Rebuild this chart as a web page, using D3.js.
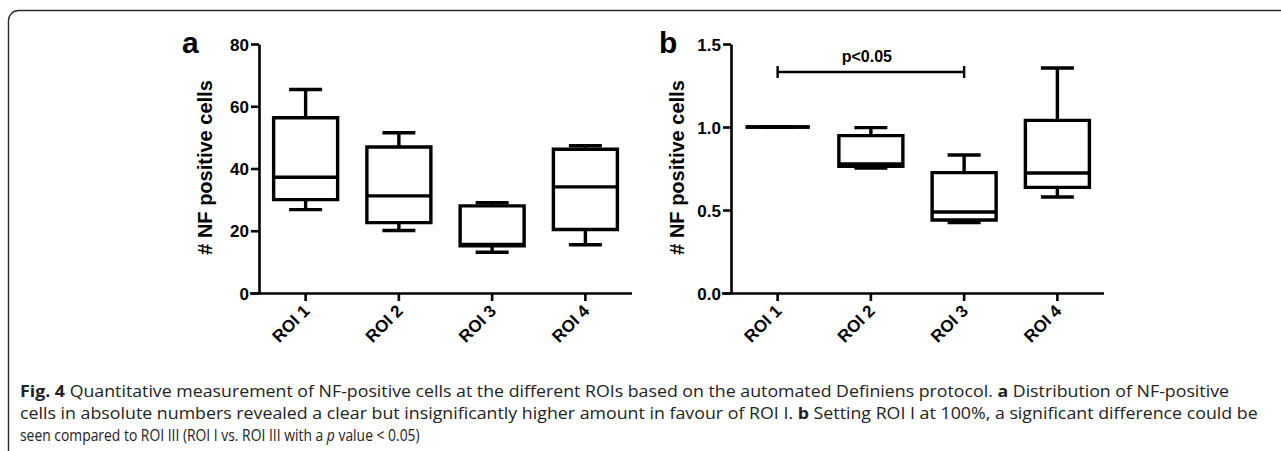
<!DOCTYPE html>
<html>
<head>
<meta charset="utf-8">
<script src="https://cdn.jsdelivr.net/npm/d3@7"></script>
<style>
  html, body { margin: 0; padding: 0; background: #fff; }
  svg { display: block; }
</style>
</head>
<body>
<svg id="chart" width="1281" height="451"></svg>
<script>
// ---------- data ----------
const categories = ["ROI 1", "ROI 2", "ROI 3", "ROI 4"];

// panel a: absolute counts
const aMin = [26.8, 20.1, 13.1, 15.5];
const aQ1  = [30.0, 22.6, 15.2, 20.4];
const aMed = [37.2, 31.2, 15.6, 34.1];
const aQ3  = [56.3, 46.9, 28.0, 46.2];
const aMax = [65.4, 51.5, 29.0, 47.3];
const aTicks = [0, 20, 40, 60, 80];

// panel b: relative to ROI 1
const bMin = [1.0, 0.753, 0.425, 0.578];
const bQ1  = [1.0, 0.763, 0.440, 0.636];
const bMed = [1.0, 0.778, 0.488, 0.723];
const bQ3  = [1.0, 0.948, 0.725, 1.040];
const bMax = [1.0, 0.996, 0.831, 1.355];
const bTicks = [0.0, 0.5, 1.0, 1.5];

const sigFrom = "ROI 1", sigTo = "ROI 3", sigLevel = 1.331, sigLabel = "p<0.05";

const yTitle = "# NF positive cells";

// ---------- drawing ----------
const svg = d3.select("#chart");
const FONT = "Liberation Sans, Arial, Helvetica, sans-serif";

function setFont(sel, size, weight) {
  return sel.style("font-family", FONT).style("font-size", size + "px").style("font-weight", weight || "bold");
}

// outer frame
svg.append("path")
  .attr("d", "M8.5,451 V20.5 A10,10 0 0 1 18.5,10.5 H1281")
  .attr("fill", "none").attr("stroke", "#2b2b2b").attr("stroke-width", 1.4);

function panel(opts) {
  const { x0, x1, yTop, yBot, domainMax, ticks, fmt, mins, q1s, meds, q3s, maxs, letter, letterX } = opts;
  const g = svg.append("g");
  const x = d3.scaleBand().domain(categories).range([x0, x1]).padding(0);
  const y = d3.scaleLinear().domain([0, domainMax]).range([yBot, yTop]);

  // y axis
  const ya = g.append("g").attr("transform", `translate(${x0},0)`)
    .call(d3.axisLeft(y).tickValues(ticks).tickFormat(fmt).tickSize(8).tickSizeOuter(0).tickPadding(2));
  ya.select(".domain").attr("stroke", "#000").attr("stroke-width", 2.6);
  ya.selectAll(".tick line").attr("stroke", "#000").attr("stroke-width", 2.6);
  setFont(ya.selectAll(".tick text").attr("fill", "#000").attr("dy", "0.36em"), 17);

  // x axis
  const xa = g.append("g").attr("transform", `translate(0,${yBot})`)
    .call(d3.axisBottom(x).tickSize(8).tickSizeOuter(0).tickFormat(""));
  xa.select(".domain").attr("stroke", "#000").attr("stroke-width", 2.6)
    .attr("d", `M${x0 - 9},0.5H${x1}`);
  xa.selectAll(".tick line").attr("stroke", "#000").attr("stroke-width", 2.6);
  setFont(xa.selectAll(".tick").append("text")
    .attr("fill", "#000")
    .attr("text-anchor", "end")
    .attr("transform", "translate(5,19) rotate(-45)")
    .text(d => d), 17);

  // y title
  setFont(g.append("text")
    .attr("transform", `translate(${x0 - 47},${(yTop + yBot) / 2 - 1}) rotate(-90)`)
    .attr("text-anchor", "middle")
    .attr("fill", "#000")
    .text(yTitle), 20);

  // panel letter
  setFont(g.append("text")
    .attr("x", letterX).attr("y", 53)
    .attr("fill", "#000")
    .text(letter), 30);

  // boxes
  const boxW = 64, capW = 33, sw = 3.4;
  const boxes = g.append("g").attr("fill", "none").attr("stroke", "#000").attr("stroke-width", sw);
  categories.forEach((c, i) => {
    const cx = x(c) + x.bandwidth() / 2;
    const bx0 = cx - boxW / 2, bx1 = cx + boxW / 2;
    const yq1 = y(q1s[i]), yq3 = y(q3s[i]), ym = y(meds[i]), ylo = y(mins[i]), yhi = y(maxs[i]);
    // whiskers
    boxes.append("path").attr("d", `M${cx},${yq3}V${yhi}M${cx - capW / 2},${yhi}H${cx + capW / 2}`);
    boxes.append("path").attr("d", `M${cx},${yq1}V${ylo}M${cx - capW / 2},${ylo}H${cx + capW / 2}`);
    // box
    boxes.append("path").attr("d", `M${bx0},${yq3}H${bx1}V${yq1}H${bx0}Z`).attr("stroke-linejoin", "miter");
    // median
    boxes.append("path").attr("d", `M${bx0},${ym}H${bx1}`);
  });
  return { g, x, y };
}

panel({ x0: 259, x1: 632, yTop: 44, yBot: 293, domainMax: 80, ticks: aTicks, fmt: d3.format("d"),
  mins: aMin, q1s: aQ1, meds: aMed, q3s: aQ3, maxs: aMax, letter: "a", letterX: 182 });

const pb = panel({ x0: 731, x1: 1104, yTop: 44, yBot: 293, domainMax: 1.5, ticks: bTicks, fmt: d3.format(".1f"),
  mins: bMin, q1s: bQ1, meds: bMed, q3s: bQ3, maxs: bMax, letter: "b", letterX: 659 });

// significance bar
{
  const { g, x, y } = pb;
  const xa = x(sigFrom) + x.bandwidth() / 2, xb = x(sigTo) + x.bandwidth() / 2, ys = y(sigLevel);
  g.append("path")
    .attr("d", `M${xa},${ys}H${xb}M${xa},${ys - 6}V${ys + 6}M${xb},${ys - 6}V${ys + 6}`)
    .attr("fill", "none").attr("stroke", "#000").attr("stroke-width", 2.4);
  setFont(g.append("text")
    .attr("x", (xa + xb) / 2 - 4).attr("y", ys - 10)
    .attr("text-anchor", "middle")
    .attr("fill", "#000")
    .text(sigLabel), 16);
}

// caption
const capFont = "Liberation Sans Narrow, Open Sans, Noto Sans, sans-serif";
const capLines = [
  { y: 397, target: 1210, parts: [["Fig. 4", "bold"], [" Quantitative measurement of NF-positive cells at the different ROIs based on the automated Definiens protocol. ", ""], ["a", "bold"], [" Distribution of NF-positive", ""]] },
  { y: 419, target: 1239, parts: [["cells in absolute numbers revealed a clear but insignificantly higher amount in favour of ROI I. ", ""], ["b", "bold"], [" Setting ROI I at 100%, a significant difference could be", ""]] },
  { y: 441, target: 400, parts: [["seen compared to ROI III (ROI I vs. ROI III with a ", ""], ["p", "italic"], [" value < 0.05)", ""]] }
];
capLines.forEach(l => {
  const t = svg.append("text").attr("x", 0).attr("y", 0)
    .style("font-family", capFont).style("font-size", "16px").attr("fill", "#222");
  l.parts.forEach(([s, st]) => {
    const ts = t.append("tspan").text(s);
    if (st === "bold") ts.style("font-weight", "bold");
    if (st === "italic") ts.style("font-style", "italic");
  });
  const k = l.target / t.node().getComputedTextLength();
  t.attr("transform", `translate(20,${l.y}) scale(${k},1)`);
});
</script>
</body>
</html>
